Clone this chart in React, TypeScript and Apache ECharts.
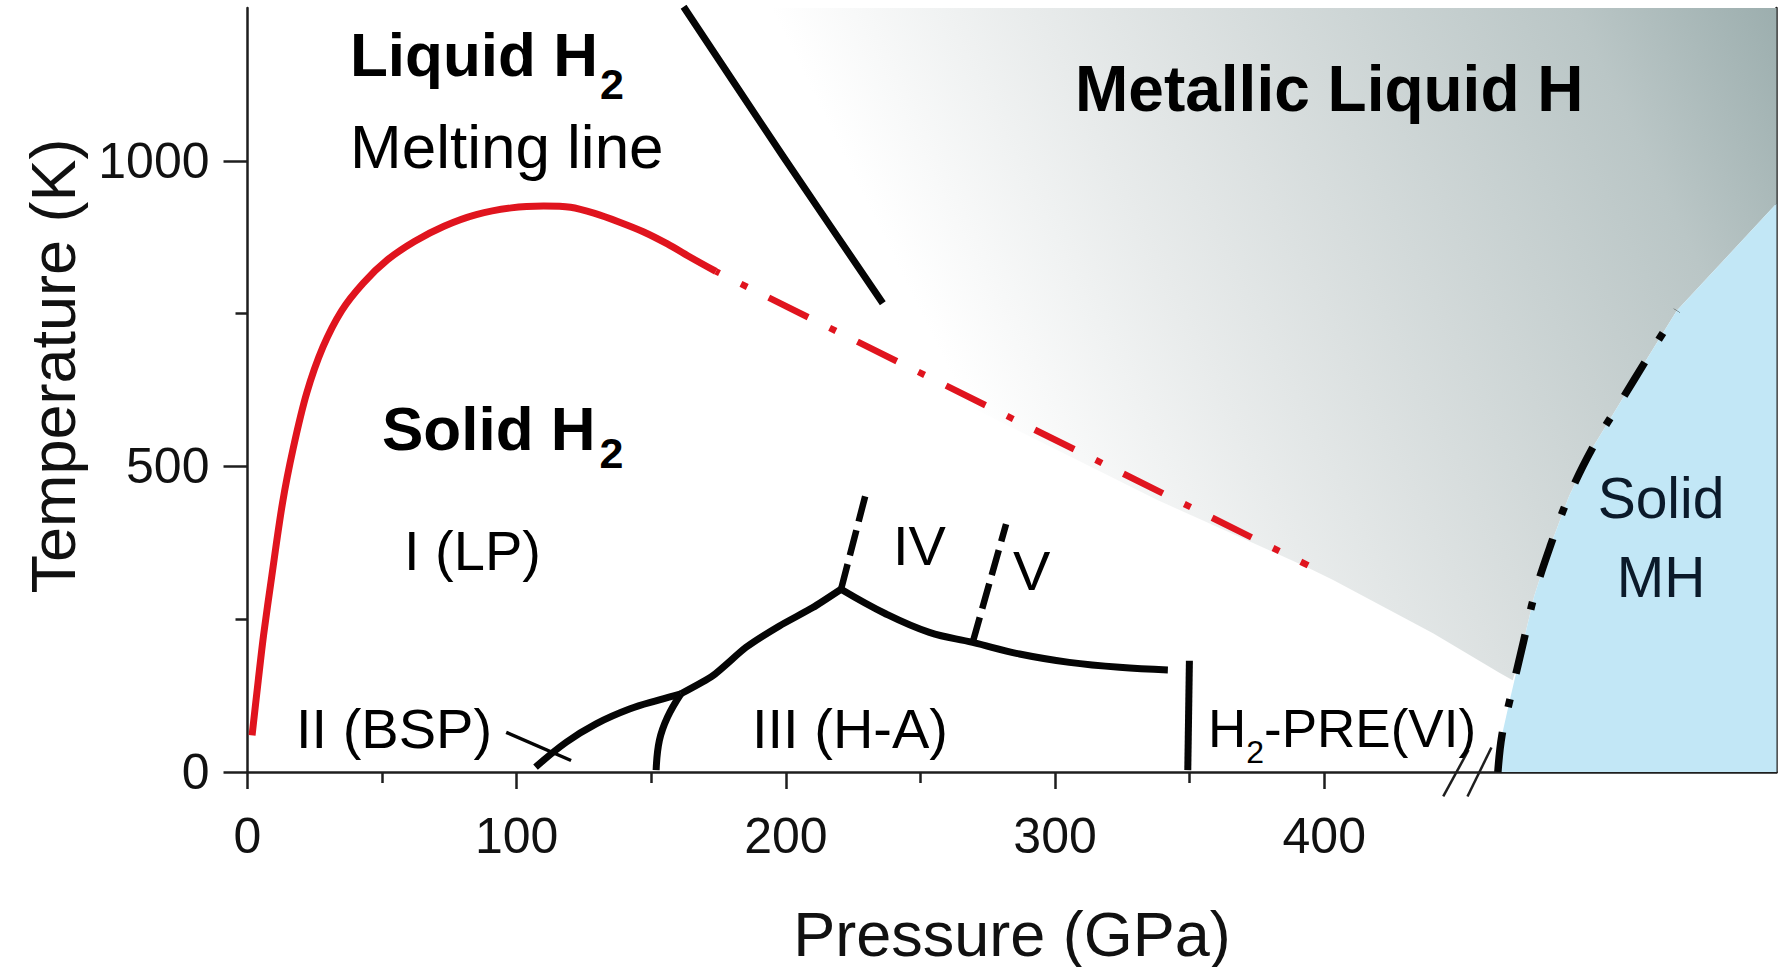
import React, { useEffect, useRef } from 'react';
import * as echarts from 'echarts';

const FONT = '"Liberation Sans", Arial, Helvetica, sans-serif';

// ---- Axes ----
const X_MAX = 568; // GPa at right frame
const Y_MAX = 1250; // K at top of plot
const xMajorTicks = [0, 100, 200, 300, 400];
const xMinorTicks = [50, 150, 250, 350];
const yMajorTicks = [0, 500, 1000];
const yMinorTicks = [250, 750];

// ---- Curves: [pressure (GPa), temperature (K)] ----
const meltingLine = [
  [1.7, 60], [4, 150], [6, 225], [9, 320], [13, 440], [17, 530], [22, 620],
  [28, 695], [35, 755], [43, 800], [52, 838], [62, 868], [73, 893], [85, 912],
  [98, 923], [110, 926], [120, 924], [129, 914], [138, 900], [147, 884],
  [156, 864], [165, 841], [174, 819],
];
const meltingExtrapolated = [[174, 819], [394, 338]];
const liquidTransition = [[162, 1252], [199, 1007], [236, 767]];
const boundaryI_II = [[107, 8], [118.4, 48.7], [129.5, 78.8], [141.9, 103], [153, 118], [161, 128]];
const boundaryII_III = [[151.8, 3], [153, 51.5], [156, 89.5], [161, 128]];
const boundaryI_III = [[161, 128], [172.9, 157.7], [185.2, 204], [197.6, 239], [210, 269], [220.5, 299]];
const boundaryIII_IV = [
  [220.5, 299], [237.2, 258.5], [253.3, 228.4], [269.4, 212], [286.8, 193],
  [305.3, 179.4], [323.9, 171.2], [341.9, 167],
];
const boundaryI_IV = [[220.5, 299], [229.8, 457]];
const boundaryIV_V = [[269.4, 212], [281.8, 405.5]];
const boundaryIII_VI = [[349.3, 3], [349.9, 182]];
const labelPointerII = [[96.1, 65], [120.2, 18.8]];
const metallicSolidLine = [
  [464.5, 0], [466, 60], [469, 119], [474, 213], [478, 288], [484, 370],
  [491, 452], [500, 533], [510, 605], [520, 677], [531, 755],
];
const axisBreakA = [[444.2, -40], [453.6, 36]];
const axisBreakB = [[453.2, -40], [462.1, 40]];

// ---- Regions ----
const metallicLiquidRegion = [
  [160, 1250], [568, 1250], [568, 930], [531, 755], [520, 677], [510, 605], [500, 533],
  [491, 452], [484, 370], [478, 288], [474, 213], [470, 150], [465.2, 162],
  [440.4, 227], [403.3, 314], [393.6, 335], [338, 445], [174, 805], [160, 835],
];
const solidMHRegion = [
  [464.5, 0], [466, 60], [469, 119], [474, 213], [478, 288], [484, 370], [491, 452],
  [500, 533], [510, 605], [520, 677], [531, 755], [568, 930], [568, 0],
];

const RED = '#e0141e';
const BLACK = '#050505';
const AXIS = '#1e1e1e';

function lineSeries(name: string, data: number[][], color: string, width: number, type: any, smooth: any, extra: any = {}) {
  return {
    type: 'line',
    name,
    data,
    symbol: 'none',
    showSymbol: false,
    smooth,
    silent: true,
    z: 5,
    lineStyle: { color, width, type, cap: 'butt', join: 'round' },
    ...extra,
  };
}

function polygonSeries(name: string, pts: number[][], fill: any, z: number) {
  return {
    type: 'custom',
    name,
    data: [[0, 0]],
    silent: true,
    z,
    renderItem: (_params: any, api: any) => ({
      type: 'polygon',
      shape: { points: pts.map((p) => api.coord(p)) },
      style: { fill },
    }),
  };
}

function txt(x: number, y: number, text: string, size: number, weight = 'normal', extra: any = {}) {
  return {
    type: 'text',
    x,
    y,
    z: 100,
    silent: true,
    style: {
      text,
      fontSize: size,
      fontFamily: FONT,
      fontWeight: weight,
      fill: '#000',
      align: 'left',
      verticalAlign: 'middle',
      ...extra,
    },
  };
}

function subText(x: number, y: number, main: string, sub: string, size: number, subSize: number, weight: string, drop: number, gap: number) {
  return {
    type: 'text',
    x,
    y,
    z: 100,
    silent: true,
    style: {
      text: `{m|${main}}{s|${sub}}`,
      align: 'left',
      verticalAlign: 'middle',
      fontFamily: FONT,
      fontSize: size,
      fontWeight: weight,
      fill: '#000',
      rich: {
        m: { fontSize: size, fontFamily: FONT, fontWeight: weight, fill: '#000' },
        s: { fontSize: subSize, fontFamily: FONT, fontWeight: weight, fill: '#000', padding: [drop, 0, 0, gap] },
      },
    },
  };
}

function subText3(x: number, y: number, pre: string, sub: string, post: string, size: number, subSize: number, drop: number) {
  return {
    type: 'text',
    x,
    y,
    z: 100,
    silent: true,
    style: {
      text: `{m|${pre}}{s|${sub}}{m|${post}}`,
      align: 'left',
      verticalAlign: 'middle',
      fontFamily: FONT,
      fontSize: size,
      fill: '#000',
      rich: {
        m: { fontSize: size, fontFamily: FONT, fill: '#000' },
        s: { fontSize: subSize, fontFamily: FONT, fill: '#000', padding: [drop, 0, 0, 0] },
      },
    },
  };
}

const plainNumber = (v: number) => String(v);

export default function App() {
  const ref = useRef<HTMLDivElement>(null);

  useEffect(() => {
    document.body.style.margin = '0';
    const chart = echarts.init(ref.current as HTMLDivElement, null, { renderer: 'svg' });

    const grayFill = new echarts.graphic.LinearGradient(0, 0.3, 1, 0, [
      { offset: 0, color: '#ffffff' },
      { offset: 0.16, color: '#ffffff' },
      { offset: 0.38, color: '#e8ebeb' },
      { offset: 0.5, color: '#dce1e1' },
      { offset: 0.83, color: '#bac6c6' },
      { offset: 1, color: '#9caeae' },
    ]);

    const axisLineStyle = { color: AXIS, width: 2.5 };
    const valueAxisBase = { type: 'value', min: 0, splitLine: { show: false } };

    const option: any = {
      animation: false,
      backgroundColor: '#ffffff',
      grid: { left: 247.5, right: 7.5, top: 8, bottom: 195, containLabel: false, outerBoundsMode: 'none' },
      xAxis: [
        {
          ...valueAxisBase,
          max: X_MAX,
          position: 'bottom',
          axisLine: { show: true, onZero: false, lineStyle: axisLineStyle },
          axisTick: { show: true, length: 17, lineStyle: axisLineStyle, customValues: xMajorTicks },
          axisLabel: { show: true, customValues: xMajorTicks, formatter: plainNumber, fontSize: 50, fontFamily: FONT, color: '#111', margin: 39 },
          name: 'Pressure (GPa)',
          nameLocation: 'middle',
          nameGap: 130,
          nameTextStyle: { fontSize: 63, fontFamily: FONT, color: '#111' },
        },
        {
          ...valueAxisBase,
          max: X_MAX,
          position: 'bottom',
          axisLine: { show: false, onZero: false },
          axisTick: { show: true, length: 11, lineStyle: axisLineStyle, customValues: xMinorTicks },
          axisLabel: { show: false },
        },
      ],
      yAxis: [
        {
          ...valueAxisBase,
          max: Y_MAX,
          position: 'left',
          axisLine: { show: true, onZero: false, lineStyle: axisLineStyle },
          axisTick: { show: true, length: 24, lineStyle: axisLineStyle, customValues: yMajorTicks },
          axisLabel: { show: true, customValues: yMajorTicks, formatter: plainNumber, fontSize: 50, fontFamily: FONT, color: '#111', margin: 38 },
          name: 'Temperature (K)',
          nameLocation: 'middle',
          nameRotate: 90,
          nameGap: 163,
          nameTextStyle: { fontSize: 63, fontFamily: FONT, color: '#111', padding: [0, 0, 0, 48] },
        },
        {
          ...valueAxisBase,
          max: Y_MAX,
          position: 'left',
          axisLine: { show: false, onZero: false },
          axisTick: { show: true, length: 12, lineStyle: axisLineStyle, customValues: yMinorTicks },
          axisLabel: { show: false },
        },
        {
          ...valueAxisBase,
          max: Y_MAX,
          position: 'right',
          axisLine: { show: true, onZero: false, lineStyle: axisLineStyle },
          axisTick: { show: false },
          axisLabel: { show: false },
        },
      ],
      series: [
        polygonSeries('Metallic liquid H region', metallicLiquidRegion, grayFill, 1),
        polygonSeries('Solid MH region', solidMHRegion, '#c2e7f6', 2),
        lineSeries('Melting line', meltingLine, RED, 7, 'solid', 0.3),
        lineSeries('Melting line (extrapolated)', meltingExtrapolated, RED, 6.5, [44, 24, 7, 24], false, { lineStyle: { color: RED, width: 6.5, type: [44, 24, 7, 24], dashOffset: 40, cap: 'butt' } }),
        lineSeries('Liquid transition', liquidTransition, BLACK, 7, 'solid', 0.2),
        lineSeries('I-II', boundaryI_II, BLACK, 7, 'solid', 0.4),
        lineSeries('II-III', boundaryII_III, BLACK, 7, 'solid', 0.4),
        lineSeries('I-III', boundaryI_III, BLACK, 7, 'solid', 0.2),
        lineSeries('III-IV-V', boundaryIII_IV, BLACK, 7, 'solid', 0.4),
        lineSeries('I-IV', boundaryI_IV, BLACK, 6.5, [26, 9], false),
        lineSeries('IV-V', boundaryIV_V, BLACK, 6.5, [26, 9], false),
        lineSeries('III-VI', boundaryIII_VI, BLACK, 7, 'solid', false),
        lineSeries('II pointer', labelPointerII, BLACK, 3.5, 'solid', false),
        lineSeries('Metallic solid boundary', metallicSolidLine, BLACK, 7.5, [40, 26, 8, 26], 0.4),
        lineSeries('Axis break A', axisBreakA, AXIS, 2.5, 'solid', false, { clip: false }),
        lineSeries('Axis break B', axisBreakB, AXIS, 2.5, 'solid', false, { clip: false }),
      ],
      graphic: [
        subText(350, 54, 'Liquid H', '2', 62, 43, 'bold', 60, 2),
        txt(350, 146, 'Melting line', 62),
        txt(1075, 89, 'Metallic Liquid H', 64, 'bold'),
        subText(382, 428, 'Solid H', '2', 62, 43, 'bold', 50, 4),
        txt(404, 550, 'I (LP)', 56),
        txt(893, 545, 'IV', 56),
        txt(1013, 570, 'V', 56),
        txt(296, 728, 'II (BSP)', 56),
        txt(752, 728, 'III (H-A)', 56),
        subText3(1208, 728, 'H', '2', '-PRE(VI)', 53, 32, 48),
        txt(1661, 537.5, 'Solid\nMH', 57, 'normal', { align: 'center', lineHeight: 79, fill: '#0b1a2a' }),
      ],
    };

    chart.setOption(option);
    return () => chart.dispose();
  }, []);

  return (
    <div
      ref={ref}
      style={{ position: 'fixed', left: 0, top: 0, width: 1784, height: 967, background: '#ffffff' }}
    />
  );
}
